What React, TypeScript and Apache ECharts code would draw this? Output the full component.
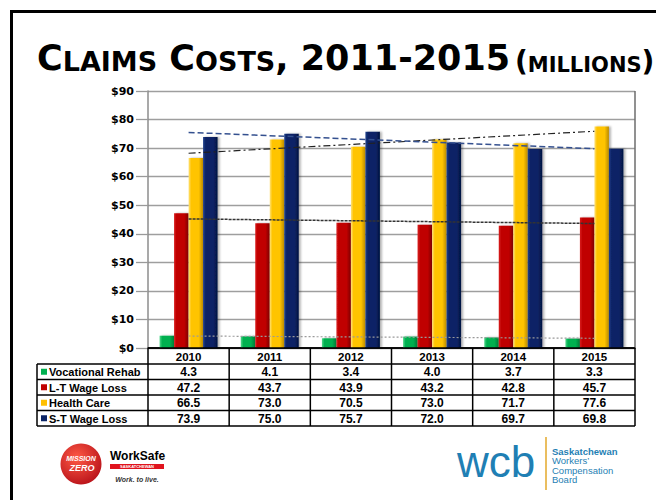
import React, { useEffect, useRef } from 'react';
import * as echarts from 'echarts';

const years = ['2010', '2011', '2012', '2013', '2014', '2015'];
const seriesNames = ['Vocational Rehab', 'L-T Wage Loss', 'Health Care', 'S-T Wage Loss'];
const vocationalRehab = [4.3, 4.1, 3.4, 4.0, 3.7, 3.3];
const ltWageLoss = [47.2, 43.7, 43.9, 43.2, 42.8, 45.7];
const healthCare = [66.5, 73.0, 70.5, 73.0, 71.7, 77.6];
const stWageLoss = [73.9, 75.0, 75.7, 72.0, 69.7, 69.8];
// trend line end points (2010 -> 2015)
const vrTrend = [4.2, 3.4];
const ltTrend = [45.2, 43.6];
const hcTrend = [68.2, 75.9];
const stTrend = [75.5, 69.8];
const yTickMax = 90;
const yTickStep = 10;

const barColors = [
  ['#4fd889', '#00b050', '#007a36'],
  ['#d81e1e', '#c00000', '#7d0000'],
  ['#ffe27a', '#ffc400', '#b98a00'],
  ['#1f3f8c', '#0b2466', '#031340'],
];
const keyColors = ['#00b050', '#c00000', '#ffc000', '#0b2466'];

const grad = (c: string[]) =>
  new echarts.graphic.LinearGradient(0, 0, 1, 0, [
    { offset: 0, color: c[0] },
    { offset: 0.18, color: c[1] },
    { offset: 0.7, color: c[1] },
    { offset: 1, color: c[2] },
  ]);

const trendData = (t: number[]) => [t[0], '-', '-', '-', '-', t[1]];

export default function App() {
  const ref = useRef<HTMLDivElement>(null);
  useEffect(() => {
    document.body.style.margin = '0';
    const chart = echarts.init(ref.current!, null, { renderer: 'svg' });
    const values = [vocationalRehab, ltWageLoss, healthCare, stWageLoss];
    const barSeries = values.map((d, i) => ({
      name: seriesNames[i],
      type: 'bar',
      data: d,
      barWidth: 14.5,
      barGap: '0%',
      itemStyle: {
        color: grad(barColors[i]),
        shadowColor: 'rgba(0,0,0,0.3)',
        shadowBlur: 2,
        shadowOffsetX: 2,
      },
      z: 2,
    }));
    const trend = (t: number[], color: string, type: any, width: number) => ({
      type: 'line',
      data: trendData(t),
      connectNulls: true,
      symbol: 'none',
      silent: true,
      lineStyle: { color, type, width },
      z: 5,
    });
    chart.setOption({
      animation: false,
      title: {
        left: 37,
        top: 35,
        padding: 0,
        text:
          '{b|C}{s|LAIMS}{b| C}{s|OSTS}{b|, 2011-2015}{sp| }{p|(}{m|MILLIONS}{p|)}',
        textStyle: {
          rich: {
            b: { fontFamily: 'DejaVu Sans', fontWeight: 'bold', fontSize: 35, lineHeight: 40, verticalAlign: 'bottom', color: '#000' },
            s: { fontFamily: 'DejaVu Sans', fontWeight: 'bold', fontSize: 27, lineHeight: 34.5, verticalAlign: 'bottom', color: '#000' },
            sp: { fontFamily: 'DejaVu Sans', fontWeight: 'bold', fontSize: 14, lineHeight: 28, verticalAlign: 'bottom', color: '#000' },
            p: { fontFamily: 'DejaVu Sans', fontWeight: 'bold', fontSize: 28, lineHeight: 35.2, verticalAlign: 'bottom', color: '#000' },
            m: { fontFamily: 'DejaVu Sans', fontWeight: 'bold', fontSize: 21, lineHeight: 30.3, verticalAlign: 'bottom', color: '#000' },
          },
        },
      },
      grid: { left: 148, right: 21, top: 91, bottom: 152, containLabel: false },
      xAxis: {
        type: 'category',
        data: years,
        axisLabel: { show: false },
        axisTick: { show: false },
        axisLine: { lineStyle: { color: '#000', width: 1.5 } },
      },
      yAxis: {
        type: 'value',
        min: 0,
        max: yTickMax,
        interval: yTickStep,
        axisLine: { show: true, lineStyle: { color: '#8c8c8c', width: 1.5 } },
        axisTick: { show: true, length: 12, lineStyle: { color: '#9a9a9a', width: 1.3 } },
        splitLine: { lineStyle: { color: '#9e9e9e', width: 1.3 } },
        axisLabel: {
          margin: 14,
          formatter: '${value}',
          fontFamily: 'DejaVu Sans',
          fontWeight: 'bold',
          fontSize: 11,
          color: '#000',
        },
      },
      series: [
        ...barSeries,
        trend(vrTrend, '#9a9a9a', [2, 2], 1.2),
        trend(ltTrend, '#333333', [3, 1], 1.5),
        trend(hcTrend, '#222222', [7, 3, 2, 3], 1.2),
        trend(stTrend, '#34508f', [6, 3], 1.5),
      ],
    });

    const c0 = chart.convertToPixel({ xAxisIndex: 0 }, 0) as number;
    const c1 = chart.convertToPixel({ xAxisIndex: 0 }, 1) as number;
    const step = c1 - c0;
    const y0 = chart.convertToPixel({ yAxisIndex: 0 }, 0) as number;
    const yTop = chart.convertToPixel({ yAxisIndex: 0 }, yTickMax) as number;
    const pLeft = c0 - step / 2;
    const pRight = c0 + (years.length - 0.5) * step;
    const tLeft = 37;
    const headerBottom = y0 + 16;
    const rowH = 15.5;
    const tBottom = headerBottom + rowH * seriesNames.length;
    const g: any[] = [];
    const ln = (x1: number, y1: number, x2: number, y2: number, stroke: string, w: number) =>
      g.push({ type: 'line', silent: true, z: 20, shape: { x1, y1, x2, y2 }, style: { stroke, lineWidth: w } });
    const txt = (text: string, x: number, y: number, size: number, align: string, extra: any = {}) =>
      g.push({
        type: 'text',
        silent: true,
        z: 21,
        style: {
          text,
          x,
          y,
          fill: '#000',
          fontFamily: 'Liberation Sans, Arial, sans-serif',
          fontWeight: 'bold',
          fontSize: size,
          align,
          verticalAlign: 'middle',
          ...extra,
        },
      });

    // frame
    g.push({ type: 'rect', silent: true, z: 30, shape: { x: 11.5, y: 11.5, width: 720, height: 620 }, style: { fill: 'none', stroke: '#000', lineWidth: 3 } });
    // plot right border
    ln(pRight, yTop, pRight, y0, '#6d6d6d', 1.5);
    // table
    ln(pLeft, y0, pRight, y0, '#000', 1.5);
    for (let k = 0; k <= seriesNames.length; k++) ln(tLeft, headerBottom + k * rowH, pRight, headerBottom + k * rowH, '#000', 1.5);
    ln(tLeft, headerBottom, tLeft, tBottom, '#000', 1.5);
    for (let i = 0; i <= years.length; i++) ln(pLeft + i * step, y0, pLeft + i * step, tBottom, '#000', 1.5);
    years.forEach((yr, i) => txt(yr, c0 + i * step, (y0 + headerBottom) / 2 + 0.5, 11.5, 'center'));
    values.forEach((arr, k) => {
      const cy = headerBottom + k * rowH + rowH / 2 + 0.5;
      g.push({ type: 'rect', silent: true, z: 21, shape: { x: 41, y: cy - 3.5, width: 6, height: 6 }, style: { fill: keyColors[k] } });
      txt(seriesNames[k], 49, cy, 11, 'left');
      arr.forEach((v, i) => txt(v.toFixed(1), c0 + i * step, cy, 12, 'center'));
    });

    // Mission Zero / WorkSafe logo
    g.push({
      type: 'circle', silent: true, z: 21, shape: { cx: 81, cy: 464, r: 20.5 },
      style: {
        fill: new echarts.graphic.RadialGradient(0.4, 0.35, 0.7, [
          { offset: 0, color: '#ff5a45' },
          { offset: 1, color: '#b8121a' },
        ]),
      },
    });
    txt('MISSION', 81, 458, 7, 'center', { fill: '#fff', fontStyle: 'italic' });
    txt('ZERO', 82, 468, 9, 'center', { fill: '#fff', fontStyle: 'italic' });
    txt('WorkSafe', 110, 456, 12, 'left');
    g.push({ type: 'rect', silent: true, z: 21, shape: { x: 110, y: 464, width: 54, height: 5 }, style: { fill: '#e0141e' } });
    txt('SASKATCHEWAN', 137, 466.5, 4, 'center', { fill: '#fff' });
    txt('Work. to live.', 137, 479, 7, 'center', { fontStyle: 'italic', fill: '#333' });

    // WCB logo
    txt('wcb', 457, 461, 44, 'left', { fill: '#1f7fb4', fontWeight: 'normal' });
    ln(546, 437, 546, 490, '#e3a92b', 1.5);
    txt('Saskatchewan', 552, 451, 9.5, 'left', { fill: '#1f7fb4' });
    txt('Workers\u2019', 552, 460.5, 9.5, 'left', { fill: '#1f7fb4', fontWeight: 'normal' });
    txt('Compensation', 552, 470, 9.5, 'left', { fill: '#1f7fb4', fontWeight: 'normal' });
    txt('Board', 552, 479.5, 9.5, 'left', { fill: '#1f7fb4', fontWeight: 'normal' });

    chart.setOption({ graphic: g });
    return () => chart.dispose();
  }, []);
  return <div ref={ref} style={{ width: 656, height: 500 }} />;
}
